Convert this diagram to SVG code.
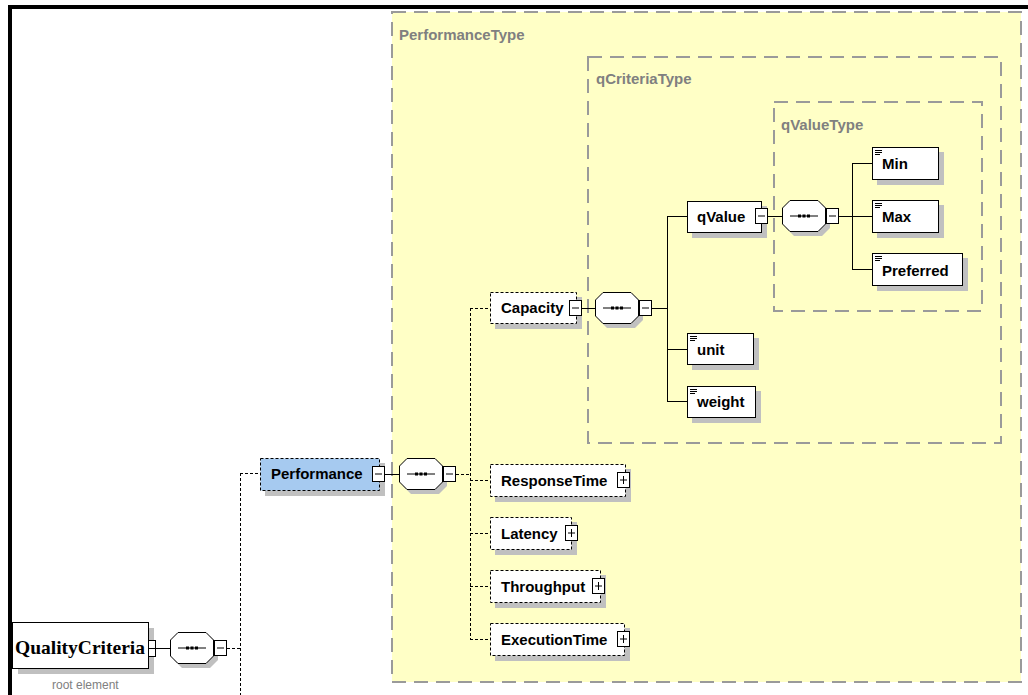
<svg xmlns="http://www.w3.org/2000/svg" xmlns:xlink="http://www.w3.org/1999/xlink" width="1028" height="695" viewBox="0 0 1028 695">
<style>
.bg{fill:#ffffff}
.frame{fill:#000000}
.typebox{fill:#ffffc6;stroke:#9a9a9a;stroke-width:2;stroke-dasharray:14 8}
.typelbl{font-family:"Liberation Sans",Arial,sans-serif;font-weight:bold;font-size:15px;fill:#808080}
.lbl{font-family:"Liberation Sans",Arial,sans-serif;font-weight:bold;font-size:15px;fill:#000000}
.root{font-family:"Liberation Serif","Times New Roman",serif;font-weight:bold;font-size:19.5px;fill:#000000}
.note{font-family:"Liberation Sans",Arial,sans-serif;font-size:12px;fill:#808080}
.shadow{fill:#c0c0c0}
.box{fill:#ffffff;stroke:#000000;stroke-width:1}
.opt{stroke-dasharray:3 2}
.sel{fill:#a6caf0}
.btn{fill:#ffffff;stroke:#000000;stroke-width:1}
.ln{stroke:#000000;stroke-width:1;fill:none}
.dash{stroke-dasharray:3 2}
</style>
<defs>
<g id="seq">
<polygon class="shadow" points="12,4 40,4 48,12 48,28 40,36 12,36 4,28 4,12"/>
<polygon class="box" points="8,0.5 36,0.5 43.5,8 43.5,24 36,31.5 8,31.5 0.5,24 0.5,8"/>
<line class="ln" x1="8" y1="16" x2="36" y2="16"/>
<rect x="16" y="14.5" width="3" height="3" fill="#000"/>
<rect x="20.5" y="14.5" width="3" height="3" fill="#000"/>
<rect x="25" y="14.5" width="3" height="3" fill="#000"/>
<rect class="btn" x="44.5" y="8.5" width="12" height="15"/>
<line class="ln" x1="47" y1="16" x2="54" y2="16"/>
</g>
<g id="minus">
<rect class="btn" x="0.5" y="0.5" width="12" height="15"/>
<line class="ln" x1="3" y1="8" x2="10" y2="8"/>
</g>
<g id="plus">
<rect class="btn" x="0.5" y="0.5" width="12" height="15"/>
<line class="ln" x1="3" y1="8" x2="10" y2="8"/>
<line class="ln" x1="6.5" y1="4" x2="6.5" y2="12"/>
</g>
<g id="icon">
<line class="ln" x1="0" y1="0.5" x2="7" y2="0.5"/>
<line class="ln" x1="0" y1="2.5" x2="7" y2="2.5"/>
<line class="ln" x1="0" y1="4.5" x2="5" y2="4.5"/>
</g>
</defs>

<rect class="bg" x="0" y="0" width="1028" height="695"/>

<g id="type-boxes">
<rect class="typebox" x="392" y="12" width="629" height="670"/>
<text class="typelbl" x="399" y="40">PerformanceType</text>
<rect class="typebox" x="588" y="57" width="413" height="386"/>
<text class="typelbl" x="596" y="84">qCriteriaType</text>
<rect class="typebox" x="774" y="102" width="208" height="209"/>
<text class="typelbl" x="781" y="130">qValueType</text>
</g>

<g id="connectors">
<line class="ln" x1="156" y1="648.5" x2="170" y2="648.5"/>
<line class="ln dash" x1="227" y1="648.5" x2="240" y2="648.5"/>
<line class="ln dash" x1="240.5" y1="473" x2="240.5" y2="695"/>
<line class="ln dash" x1="240" y1="473.5" x2="260" y2="473.5"/>
<line class="ln" x1="385" y1="474.5" x2="399" y2="474.5"/>
<line class="ln dash" x1="456" y1="474.5" x2="470" y2="474.5"/>
<line class="ln dash" x1="470.5" y1="308" x2="470.5" y2="640"/>
<line class="ln dash" x1="470" y1="308.5" x2="490" y2="308.5"/>
<line class="ln dash" x1="470" y1="480.5" x2="490" y2="480.5"/>
<line class="ln dash" x1="470" y1="533.5" x2="490" y2="533.5"/>
<line class="ln dash" x1="470" y1="586.5" x2="490" y2="586.5"/>
<line class="ln dash" x1="470" y1="639.5" x2="490" y2="639.5"/>
<line class="ln" x1="582" y1="308.5" x2="595" y2="308.5"/>
<line class="ln" x1="652" y1="308.5" x2="667" y2="308.5"/>
<line class="ln" x1="667.5" y1="216" x2="667.5" y2="402"/>
<line class="ln" x1="667" y1="216.5" x2="687" y2="216.5"/>
<line class="ln" x1="667" y1="349.5" x2="687" y2="349.5"/>
<line class="ln" x1="667" y1="401.5" x2="687" y2="401.5"/>
<line class="ln" x1="768" y1="216.5" x2="782" y2="216.5"/>
<line class="ln" x1="839" y1="216.5" x2="852" y2="216.5"/>
<line class="ln" x1="852.5" y1="163" x2="852.5" y2="270"/>
<line class="ln" x1="852" y1="163.5" x2="872" y2="163.5"/>
<line class="ln" x1="852" y1="216.5" x2="872" y2="216.5"/>
<line class="ln" x1="852" y1="269.5" x2="872" y2="269.5"/>
</g>

<g id="QualityCriteria">
<rect class="shadow" x="18" y="628" width="136" height="46"/>
<rect class="box" x="12.5" y="622.5" width="136" height="46"/>
<text class="root" x="15" y="654">QualityCriteria</text>
<rect class="btn" x="148.5" y="640.5" width="7" height="16"/>
<line class="ln" x1="149" y1="648.5" x2="155" y2="648.5"/>
<text class="note" x="52" y="689">root element</text>
</g>
<g id="seq1"><use xlink:href="#seq" x="170" y="632"/></g>

<g id="Performance">
<rect class="shadow" x="265" y="463" width="120" height="33"/>
<rect class="box sel opt" x="260.5" y="458.5" width="119" height="32"/>
<text class="lbl" x="271" y="479">Performance</text>
<use xlink:href="#minus" x="372" y="466"/>
</g>
<g id="seq2"><use xlink:href="#seq" x="399" y="458"/></g>

<g id="Capacity">
<rect class="shadow" x="495" y="297" width="87" height="32"/>
<rect class="box opt" x="490.5" y="292.5" width="86" height="31"/>
<text class="lbl" x="501" y="313">Capacity</text>
<use xlink:href="#minus" x="569" y="300"/>
</g>
<g id="seq3"><use xlink:href="#seq" x="595" y="292"/></g>

<g id="qValue">
<rect class="shadow" x="692" y="206" width="75" height="32"/>
<rect class="box" x="687.5" y="201.5" width="74" height="31"/>
<text class="lbl" x="697" y="222">qValue</text>
<use xlink:href="#minus" x="755" y="208"/>
</g>
<g id="seq4"><use xlink:href="#seq" x="782" y="200"/></g>

<g id="Min">
<rect class="shadow" x="877" y="152" width="67" height="33"/>
<rect class="box" x="872.5" y="147.5" width="66" height="32"/>
<use xlink:href="#icon" x="875" y="150"/>
<text class="lbl" x="882" y="169">Min</text>
</g>
<g id="Max">
<rect class="shadow" x="877" y="205" width="67" height="33"/>
<rect class="box" x="872.5" y="200.5" width="66" height="32"/>
<use xlink:href="#icon" x="875" y="203"/>
<text class="lbl" x="882" y="222">Max</text>
</g>
<g id="Preferred">
<rect class="shadow" x="877" y="258" width="91" height="33"/>
<rect class="box" x="872.5" y="253.5" width="90" height="32"/>
<use xlink:href="#icon" x="875" y="256"/>
<text class="lbl" x="882" y="276">Preferred</text>
</g>
<g id="unit">
<rect class="shadow" x="692" y="338" width="67" height="32"/>
<rect class="box" x="687.5" y="333.5" width="66" height="31"/>
<use xlink:href="#icon" x="690" y="336"/>
<text class="lbl" x="697" y="355">unit</text>
</g>
<g id="weight">
<rect class="shadow" x="692" y="391" width="69" height="32"/>
<rect class="box" x="687.5" y="386.5" width="68" height="31"/>
<use xlink:href="#icon" x="690" y="389"/>
<text class="lbl" x="697" y="407">weight</text>
</g>

<g id="ResponseTime">
<rect class="shadow" x="495" y="469" width="136" height="33"/>
<rect class="box opt" x="490.5" y="464.5" width="135" height="32"/>
<text class="lbl" x="501" y="486">ResponseTime</text>
<use xlink:href="#plus" x="617" y="472"/>
</g>
<g id="Latency">
<rect class="shadow" x="495" y="522" width="82" height="33"/>
<rect class="box opt" x="490.5" y="517.5" width="81" height="32"/>
<text class="lbl" x="501" y="539">Latency</text>
<use xlink:href="#plus" x="565" y="525"/>
</g>
<g id="Throughput">
<rect class="shadow" x="495" y="575" width="111" height="33"/>
<rect class="box opt" x="490.5" y="570.5" width="110" height="32"/>
<text class="lbl" x="501" y="592">Throughput</text>
<use xlink:href="#plus" x="592" y="578"/>
</g>
<g id="ExecutionTime">
<rect class="shadow" x="495" y="628" width="135" height="33"/>
<rect class="box opt" x="490.5" y="623.5" width="134" height="32"/>
<text class="lbl" x="501" y="645">ExecutionTime</text>
<use xlink:href="#plus" x="617" y="631"/>
</g>

<g id="frame">
<rect class="frame" x="8" y="5" width="1020" height="4"/>
<rect class="frame" x="8" y="5" width="4" height="690"/>
</g>
</svg>
